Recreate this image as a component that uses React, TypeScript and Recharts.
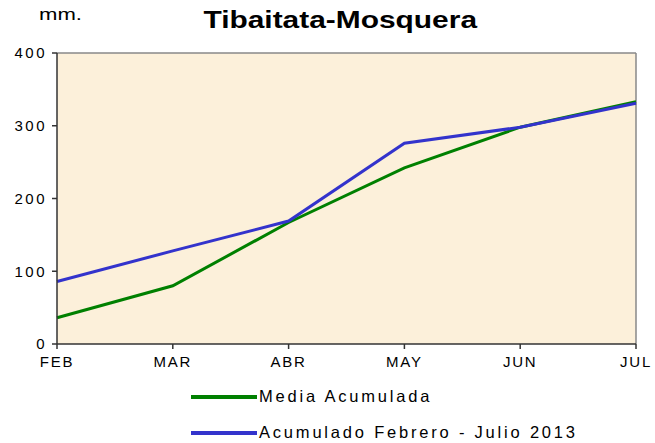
import { LineChart, Line, XAxis, YAxis, CartesianGrid, ReferenceLine } from "recharts";

const months = ["FEB", "MAR", "ABR", "MAY", "JUN", "JUL"];
const mediaAcumulada = [36, 80, 167, 242, 298, 333];
const acumulado2013 = [86, 128, 169, 276, 298, 331];
const yTicks = [0, 100, 200, 300, 400];

const series = [
  { key: "media", name: "Media Acumulada", color: "#008000" },
  { key: "acum", name: "Acumulado Febrero - Julio 2013", color: "#3333CC" },
];

const data = months.map((m, i) => ({
  month: m,
  media: mediaAcumulada[i],
  acum: acumulado2013[i],
}));

const font = "'Liberation Sans', Arial, sans-serif";

export default function App() {
  return (
    <div style={{ position: "absolute", left: 0, top: 0, width: 655, height: 443, background: "#fff", fontFamily: font }}>
      <div style={{ position: "absolute", left: 39, top: 5, fontSize: 17, color: "#000", transform: "scaleX(1.3)", transformOrigin: "left" }}>
        mm.
      </div>
      <div style={{ position: "absolute", left: 0, width: 680, top: 7, textAlign: "center" }}>
        <span style={{ display: "inline-block", fontSize: 23, fontWeight: "bold", color: "#000", transform: "scaleX(1.3)" }}>
          Tibaitata-Mosquera
        </span>
      </div>
      <LineChart width={655} height={443} data={data} margin={{ top: 53, right: 19, bottom: 69, left: 7 }}>
        <CartesianGrid horizontal={false} vertical={false} fill="#FCF0DA" />
        <XAxis
          dataKey="month"
          height={30}
          stroke="#333"
          strokeWidth={1.5}
          tickSize={5}
          tick={{ fill: "#000", fontSize: 15, fontFamily: font, letterSpacing: 1.8, dy: 5 }}
          interval={0}
        />
        <YAxis
          width={50}
          domain={[0, 400]}
          ticks={yTicks}
          stroke="#333"
          strokeWidth={1.5}
          tickSize={5}
          tick={{ fill: "#000", fontSize: 15, fontFamily: font, letterSpacing: 2.5, dx: -3 }}
        />
        <ReferenceLine y={400} stroke="#888" strokeWidth={1.5} />
        <ReferenceLine x="JUL" stroke="#888" strokeWidth={1.5} />
        {series.map((s) => (
          <Line
            key={s.key}
            dataKey={s.key}
            name={s.name}
            stroke={s.color}
            strokeWidth={3}
            dot={false}
            type="linear"
            isAnimationActive={false}
          />
        ))}
      </LineChart>
      {series.map((s, i) => (
        <div
          key={s.key}
          style={{ position: "absolute", left: 191, top: 387 + i * 36, display: "flex", alignItems: "center", fontSize: 16.5, color: "#000", whiteSpace: "pre", letterSpacing: 2.8 }}
        >
          <div style={{ width: 66, height: 4, background: s.color, marginRight: 2 }} />
          <span>{s.name}</span>
        </div>
      ))}
    </div>
  );
}
